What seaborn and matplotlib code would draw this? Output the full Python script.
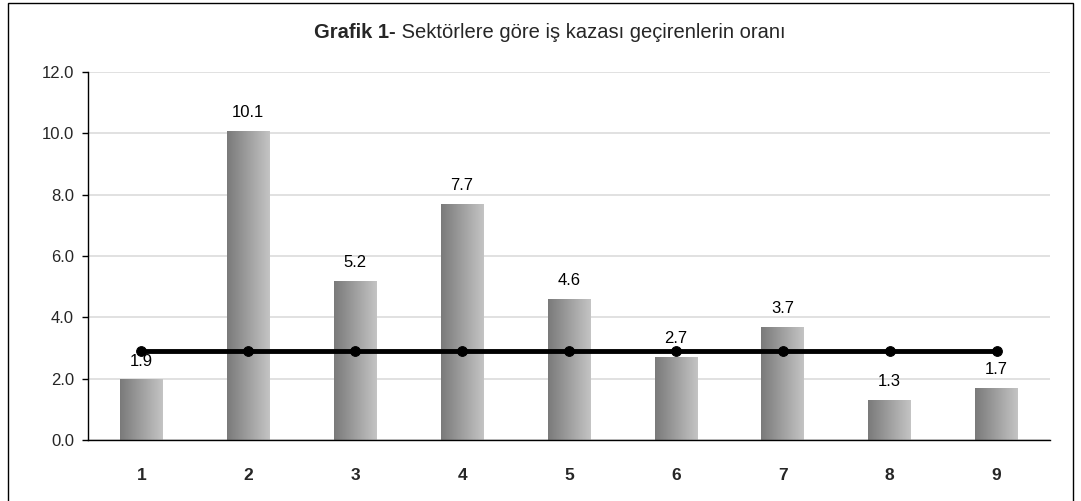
import numpy as np
import pandas as pd
import matplotlib
matplotlib.use("Agg")
import matplotlib.pyplot as plt
import seaborn as sns
from matplotlib.patches import Rectangle

sectors = ["1", "2", "3", "4", "5", "6", "7", "8", "9"]
rates = [1.98, 10.08, 5.2, 7.7, 4.6, 2.72, 3.68, 1.3, 1.7]
rate_labels = ["1.9", "10.1", "5.2", "7.7", "4.6", "2.7", "3.7", "1.3", "1.7"]
average = [2.9] * 9

sns.set_theme(style="white")
plt.rcParams["font.family"] = ["Liberation Sans", "DejaVu Sans"]

df = pd.DataFrame({"sector": sectors, "rate": rates, "avg": average})

fig = plt.figure(figsize=(10.81, 5.01), dpi=100)
ax = fig.add_axes([88 / 1081, 1 - 440 / 501, 962 / 1081, 368 / 501])

sns.barplot(data=df, x="sector", y="rate", color="#a0a0a0", width=0.4,
            saturation=1, ax=ax, zorder=2)

# gradient fill for the bars
grad = np.linspace(0, 1, 256).reshape(1, -1)
cmap = matplotlib.colors.LinearSegmentedColormap.from_list("g", ["#7a7a7a", "#c4c4c4"])
for p in list(ax.patches):
    x0, y0 = p.get_x(), p.get_y()
    w, h = p.get_width(), p.get_height()
    im = ax.imshow(grad, extent=[x0, x0 + w, y0, y0 + h], aspect="auto",
                   cmap=cmap, zorder=2.5)
    im.set_clip_path(p)
    p.set_edgecolor("none")

for i, (v, lab) in enumerate(zip(rates, rate_labels)):
    ax.text(i, v + 0.35, lab, ha="center", va="bottom", fontsize=12, color="black", zorder=3)

sns.lineplot(data=df, x="sector", y="avg", color="black", linewidth=3.5,
             marker="o", markersize=7, markeredgecolor="black", ax=ax, zorder=4)

ax.set_xlim(-0.5, 8.5)
ax.set_ylim(0, 12)
ax.set_yticks(np.arange(0, 12.1, 2))
ax.set_yticklabels([f"{t:.1f}" for t in np.arange(0, 12.1, 2)], fontsize=12)
ax.yaxis.grid(True, color="#dcdcdc", linewidth=1.2, zorder=0)
ax.set_axisbelow(True)
ax.set_xticks(range(9))
ax.set_xticklabels(sectors, fontsize=12.5, fontweight="bold")
ax.tick_params(axis="x", length=0, pad=20)
ax.set_xticks(np.arange(-0.5, 9, 1), minor=True)
ax.tick_params(axis="x", which="minor", length=6, direction="out", width=1, color="black")
ax.tick_params(axis="y", length=4, direction="out", width=1, color="black", left=True, pad=6)
ax.set_xlabel("")
ax.set_ylabel("")
for side in ["top", "right"]:
    ax.spines[side].set_visible(False)
for side in ["left", "bottom"]:
    ax.spines[side].set_color("black")
    ax.spines[side].set_linewidth(1)

# title in two parts (bold prefix), centred around x=550px
ty = 1 - 32 / 501
t1 = fig.text(0, ty, "Grafik 1-", ha="left", va="center", fontsize=14.5, fontweight="bold")
t2 = fig.text(0, ty, " Sektörlere göre iş kazası geçirenlerin oranı", ha="left",
              va="center", fontsize=14.5)
r = fig.canvas.get_renderer()
w1 = t1.get_window_extent(r).width
w2 = t2.get_window_extent(r).width
start = 550 - (w1 + w2) / 2
t1.set_x(start / 1081)
t2.set_x((start + w1) / 1081)

fig.patches.append(Rectangle((8 / 1081, -0.05), (1073 - 8) / 1081, 1.05 - 3 / 501,
                             transform=fig.transFigure, fill=False,
                             edgecolor="black", linewidth=1))

fig.savefig("out.png", dpi=100)
